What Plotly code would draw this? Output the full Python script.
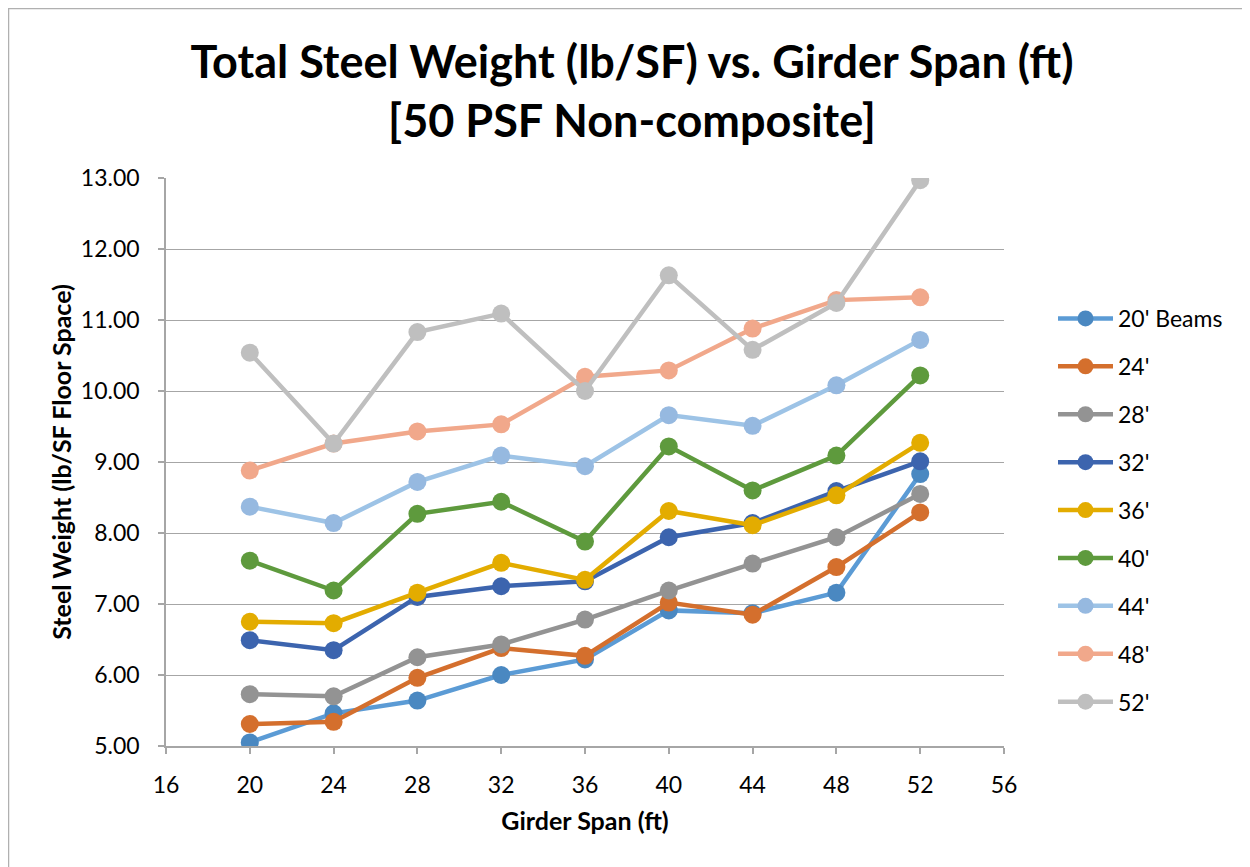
import plotly.graph_objects as go

girder_span = [20, 24, 28, 32, 36, 40, 44, 48, 52]

beams_20 = [5.05, 5.46, 5.64, 6.00, 6.22, 6.91, 6.87, 7.16, 8.83]
beams_24 = [5.31, 5.34, 5.96, 6.38, 6.27, 7.02, 6.85, 7.52, 8.29]
beams_28 = [5.73, 5.70, 6.25, 6.43, 6.78, 7.19, 7.57, 7.94, 8.55]
beams_32 = [6.49, 6.35, 7.10, 7.25, 7.32, 7.94, 8.14, 8.59, 9.01]
beams_36 = [6.75, 6.73, 7.16, 7.58, 7.34, 8.31, 8.11, 8.53, 9.27]
beams_40 = [7.61, 7.19, 8.27, 8.44, 7.88, 9.22, 8.60, 9.09, 10.22]
beams_44 = [8.37, 8.14, 8.72, 9.09, 8.94, 9.66, 9.51, 10.08, 10.72]
beams_48 = [8.88, 9.26, 9.43, 9.53, 10.20, 10.29, 10.88, 11.28, 11.32]
beams_52 = [10.54, 9.26, 10.83, 11.09, 10.00, 11.63, 10.58, 11.24, 12.97]

series_names = ["20' Beams", "24'", "28'", "32'", "36'", "40'", "44'", "48'", "52'"]
series_values = [beams_20, beams_24, beams_28, beams_32, beams_36,
                 beams_40, beams_44, beams_48, beams_52]
line_colors = ["#5B9BD5", "#D46F2D", "#939393", "#3C64AE", "#E3AC00",
               "#5E9A3D", "#9DC3E6", "#F1A88B", "#BFBFBF"]
marker_colors = ["#4A88C1", "#D46F2D", "#939393", "#3C64AE", "#E3AC00",
                 "#5E9A3D", "#96B9E0", "#F1A88B", "#BFBFBF"]

FONT = "Lato, 'Open Sans', sans-serif"
# figure sits inside the page body (8px default margin), so it is 8px smaller
W, H = 1242, 859
L, T = 158, 170
PW, PH = 838, 568
R, B = W - L - PW, H - T - PH

fig = go.Figure()
for name, vals, lc, mc in zip(series_names, series_values, line_colors, marker_colors):
    fig.add_trace(go.Scatter(
        x=girder_span, y=vals, name=name, legendgroup=name,
        mode="lines+markers",
        line=dict(color=lc, width=4.5),
        marker=dict(color=mc, size=18, line=dict(width=0)),
    ))

def px_x(p):
    return (p - L) / PW

def px_y(p):
    return (H - B - p) / PH

fig.update_layout(
    width=W, height=H,
    margin=dict(l=L, r=R, t=T, b=B, autoexpand=False),
    paper_bgcolor="white", plot_bgcolor="white",
    font=dict(family=FONT, color="#000000"),
    title=dict(
        text="Total Steel Weight (lb/SF) vs. Girder Span (ft)<br>[50 PSF Non-composite]",
        font=dict(family=FONT, size=45, color="#000000", weight="bold"),
        x=624 / W, xanchor="center", xref="container",
        y=1 - 70 / H, yanchor="top", yref="container",
    ),
    xaxis=dict(
        range=[16, 56], dtick=4, tick0=16,
        showgrid=False, zeroline=False,
        showline=True, linecolor="#A6A6A6", linewidth=1.5,
        ticks="outside", ticklen=6, tickcolor="#A6A6A6", tickwidth=1.5,
        tickfont=dict(family=FONT, size=23, color="#000000"),
        ticklabelstandoff=12,
        title=dict(text="<b>Girder Span (ft)</b>", standoff=15,
                   font=dict(family=FONT, size=25, color="#000000")),
    ),
    yaxis=dict(
        range=[5, 13], dtick=1, tick0=5, tickformat=".2f",
        showgrid=True, gridcolor="#A6A6A6", gridwidth=1.3,
        zeroline=False,
        showline=True, linecolor="#A6A6A6", linewidth=1.5,
        ticks="outside", ticklen=6, tickcolor="#A6A6A6", tickwidth=1.5,
        tickfont=dict(family=FONT, size=23, color="#000000"),
        ticklabelstandoff=14,
        title=dict(text="<b>Steel Weight (lb/SF Floor Space)</b>", standoff=2,
                   font=dict(family=FONT, size=25, color="#000000")),
    ),
    legend=dict(
        x=px_x(1045), xanchor="left",
        y=px_y(289), yanchor="top",
        font=dict(family=FONT, size=23, color="#000000"),
        tracegroupgap=15, itemwidth=55,
        bgcolor="rgba(0,0,0,0)",
    ),
    showlegend=True,
    shapes=[dict(
        type="rect", xref="paper", yref="paper",
        x0=px_x(0.5), x1=px_x(1300), y0=px_y(920), y1=px_y(0.5),
        line=dict(color="#B0B0B0", width=1.5), fillcolor="rgba(0,0,0,0)",
        layer="below",
    )],
)

fig.write_html("out.html")
